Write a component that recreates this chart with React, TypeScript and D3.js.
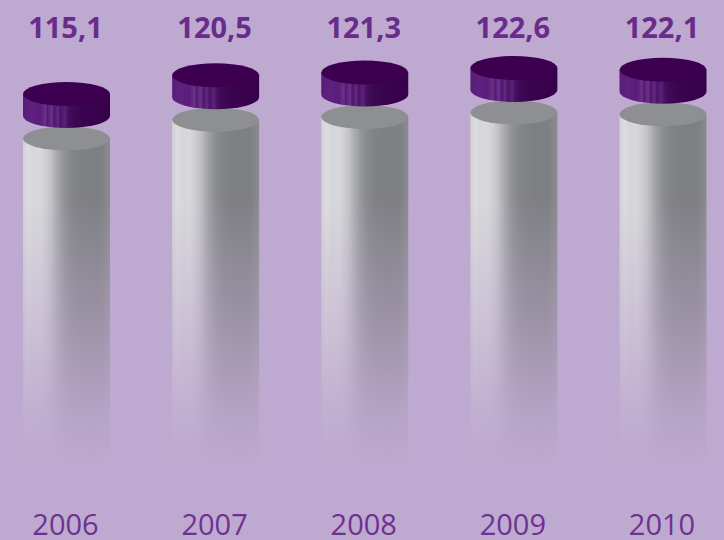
import React from "react";
import * as d3 from "d3";

const years = ["2006", "2007", "2008", "2009", "2010"];
const values = [115.1, 120.5, 121.3, 122.6, 122.1];
const valueLabels = ["115,1", "120,5", "121,3", "122,6", "122,1"];

const W = 724;
const H = 540;

export default function App() {
  const x = d3.scalePoint<string>().domain(years).range([66.5, 663]);
  // y position of the centre of the purple cap's top face
  const y = d3.scaleLinear().domain([115.1, 122.6]).range([94, 68]);
  const rx = 43.5;
  const ry = 12;
  const capH = 22;
  const gap = 44.5;
  const bodyBottom = 462;

  const bodyStops: [number, string][] = [
    [0, "#d2d2d5"], [0.06, "#dcdcde"], [0.12, "#d6d6d8"], [0.2, "#d8d8da"],
    [0.26, "#cfcfd2"], [0.32, "#c2c2c6"], [0.38, "#acadb1"], [0.44, "#9a9b9f"],
    [0.5, "#8d8e92"], [0.56, "#85868a"], [0.62, "#818286"], [0.75, "#7e7f83"],
    [0.9, "#7f8084"], [0.96, "#86878b"], [1, "#8b8c90"],
  ];
  const capStops: [number, string][] = [
    [0, "#5a1c78"], [0.1, "#5e2180"], [0.2, "#5a1d7a"], [0.26, "#6b3189"],
    [0.28, "#55196f"], [0.33, "#6a3290"], [0.36, "#4f156b"], [0.4, "#632a84"],
    [0.43, "#4c1368"], [0.48, "#5a2379"], [0.52, "#45105e"], [0.57, "#3e0a55"],
    [0.7, "#3a044e"], [1, "#37004a"],
  ];

  return (
    <svg
      width={W}
      height={H}
      style={{ position: "absolute", left: 0, top: 0, display: "block" }}
      fontFamily="'Open Sans', sans-serif"
    >
      <defs>
        <linearGradient id="bodyGrad" x1="0" x2="1" y1="0" y2="0">
          {bodyStops.map(([o, c], i) => (
            <stop key={i} offset={o} stopColor={c} />
          ))}
        </linearGradient>
        <linearGradient id="capGrad" x1="0" x2="1" y1="0" y2="0">
          {capStops.map(([o, c], i) => (
            <stop key={i} offset={o} stopColor={c} />
          ))}
        </linearGradient>
        <linearGradient id="fadeGrad" gradientUnits="userSpaceOnUse" x1="0" x2="0" y1="200" y2={bodyBottom}>
          <stop offset="0" stopColor="#fff" stopOpacity={1} />
          <stop offset="0.45" stopColor="#fff" stopOpacity={0.55} />
          <stop offset="0.8" stopColor="#fff" stopOpacity={0.15} />
          <stop offset="1" stopColor="#fff" stopOpacity={0} />
        </linearGradient>
        <mask id="fadeMask" maskUnits="userSpaceOnUse" x="0" y="0" width={W} height={H}>
          <rect x="0" y="0" width={W} height={H} fill="url(#fadeGrad)" />
        </mask>
      </defs>
      <rect x="0" y="0" width={W} height={H} fill="#bea9d0" />
      {years.map((yr, i) => {
        const cx = x(yr) as number;
        const yc = y(values[i]);
        const gy = yc + gap;
        const sidePath = `M${cx - rx},${yc} L${cx + rx},${yc} L${cx + rx},${yc + capH} A${rx},${ry} 0 0 1 ${cx - rx},${yc + capH} Z`;
        return (
          <g key={yr}>
            <rect
              x={cx - rx}
              y={gy}
              width={rx * 2}
              height={bodyBottom - gy}
              fill="url(#bodyGrad)"
              mask="url(#fadeMask)"
            />
            <ellipse cx={cx} cy={gy} rx={rx} ry={ry} fill="#8e8f92" />
            <path d={sidePath} fill="url(#capGrad)" />
            <ellipse cx={cx} cy={yc} rx={rx} ry={ry} fill="#3d0050" />
            <text
              x={cx - 1}
              y={38}
              textAnchor="middle"
              fontSize={29}
              fontWeight={700}
              fill="#6a2c8b"
            >
              {valueLabels[i]}
            </text>
            <text x={cx - 1} y={535} textAnchor="middle" fontSize={29} fill="#6e3191">
              {yr}
            </text>
          </g>
        );
      })}
    </svg>
  );
}
